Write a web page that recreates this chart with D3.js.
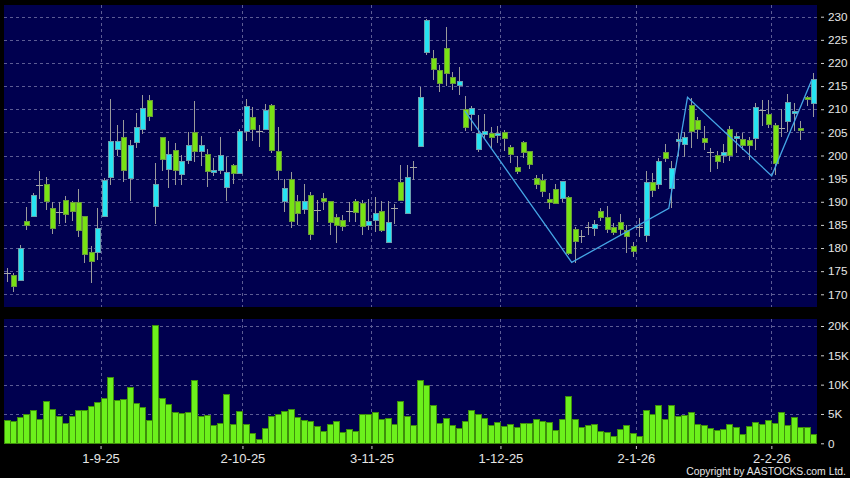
<!DOCTYPE html>
<html><head><meta charset="utf-8">
<script src="https://cdn.jsdelivr.net/npm/d3@7"></script>
<style>html,body{margin:0;padding:0;background:#000;} svg{display:block;}</style>
</head><body>
<svg id="chart" width="850" height="478"></svg>
<script>
// ---- data (trading days 11-Aug-2025 .. 10-Feb-2026, index 0..125) ----
const opens = [174.7,174.1,172.9,185.8,186.8,193.7,193.7,188.6,187.8,190.3,
189.9,189.9,186.8,179.0,179.1,186.8,195.3,201.3,203.9,195.0,
202.8,205.6,211.9,189.0,203.9,196.9,201.0,195.9,199.0,204.9,
200.9,200.2,196.3,196.7,193.0,197.9,196.1,205.1,208.2,205.4,
205.6,210.7,200.8,190.0,194.8,190.0,188.3,191.3,188.3,190.8,
190.0,186.5,186.0,188.0,190.0,189.6,184.8,185.9,187.8,181.2,
188.7,194.1,187.4,197.5,201.9,222.3,221.0,218.4,223.2,216.9,
215.1,209.9,208.8,201.2,204.5,204.8,204.3,205.0,201.7,197.4,
202.9,200.9,195.1,194.6,190.5,192.7,190.6,191.0,183.9,182.5,
184.5,184.3,187.9,186.6,184.5,185.5,183.8,180.4,184.5,182.8,
194.2,193.7,200.7,192.9,203.0,202.4,210.8,207.6,203.7,200.7,
200.0,200.1,205.6,203.7,203.4,203.2,203.6,209.8,208.8,206.5,
206.0,207.3,209.0,205.9,212.5,211.2];
const highs = [175.7,174.5,180.6,188.8,191.8,196.6,195.3,189.9,189.9,191.2,
190.1,192.8,186.8,180.4,188.6,195.1,212.3,206.6,207.7,203.3,
209.1,213.1,213.1,198.3,203.9,203.1,202.8,200.2,205.1,211.8,
204.3,201.5,199.4,204.0,199.6,198.2,205.8,212.3,210.4,206.6,
211.1,211.1,206.2,195.0,196.4,191.4,193.9,192.1,190.3,191.9,
190.0,187.3,187.1,190.0,190.7,190.3,190.7,191.0,190.1,190.1,
189.6,197.9,197.9,198.9,214.9,229.5,222.8,219.6,227.7,218.0,
219.2,212.8,210.7,208.8,208.9,206.1,206.4,205.5,202.3,199.8,
203.2,200.9,195.8,196.0,191.8,193.9,194.5,191.2,184.6,183.8,
185.7,186.1,188.6,189.0,185.4,187.4,185.0,181.4,186.5,196.6,
196.2,199.4,202.5,198.8,204.9,205.0,212.5,208.4,206.3,201.6,
200.9,202.5,206.4,204.9,204.8,203.9,211.3,212.0,212.0,207.0,
210.0,213.3,211.3,207.5,212.9,217.9];
const lows = [172.7,170.4,172.9,184.0,186.8,190.6,188.2,183.0,185.1,185.5,
185.8,182.4,176.8,172.5,177.5,186.8,193.6,199.9,194.2,190.1,
201.7,204.6,207.5,185.2,196.7,192.9,193.7,193.7,198.1,198.7,
197.8,193.1,195.6,196.0,190.1,193.8,196.1,203.2,203.2,201.9,
205.6,200.6,194.8,187.8,184.4,184.9,187.4,181.7,185.6,188.3,
182.8,181.1,183.7,185.6,185.6,182.8,183.8,183.5,183.5,181.2,
185.1,190.3,187.4,194.6,201.9,221.8,216.4,213.8,215.1,214.2,
213.1,205.2,205.2,200.7,203.6,201.6,202.8,200.9,198.3,196.0,
199.4,197.1,192.7,191.1,188.5,189.5,190.0,178.5,176.8,181.0,
182.8,182.7,185.9,183.2,182.8,182.8,178.9,178.1,182.3,181.2,
191.1,192.7,198.5,188.6,199.9,199.6,201.6,203.5,201.2,196.5,
197.1,198.3,198.9,200.5,201.2,199.0,201.2,206.4,205.9,195.8,
204.0,205.0,205.2,203.4,210.6,208.4];
const closes = [174.7,171.6,179.8,184.9,191.4,193.7,190.0,184.3,187.8,187.2,
187.9,183.7,178.6,177.0,184.3,194.5,203.0,203.0,196.7,202.2,
206.1,210.2,208.4,193.7,199.2,200.2,196.8,198.7,202.2,200.9,
202.2,196.6,196.8,200.1,196.3,196.1,205.1,210.6,205.6,205.4,
209.8,201.0,196.7,192.8,185.7,187.4,190.0,183.0,188.3,190.0,
185.5,184.8,184.7,188.0,187.7,184.7,185.8,187.4,183.7,185.5,
188.7,190.3,195.2,197.5,212.5,229.1,218.5,215.6,217.8,215.6,
216.0,206.1,210.2,204.8,205.2,203.9,204.8,203.6,200.3,196.5,
200.6,198.1,193.8,192.2,189.8,189.7,194.4,178.9,181.4,182.5,
184.5,185.1,186.7,184.1,183.4,183.9,182.5,179.2,184.5,194.2,
192.4,198.8,199.4,197.2,203.5,203.9,205.1,205.7,202.9,200.7,
198.8,200.6,199.9,204.2,202.2,202.1,210.4,209.8,206.6,198.2,
206.0,211.4,209.5,205.3,212.1,216.5];
const volumesK = [3.85,3.7,4.36,4.93,5.6,4.08,7.15,5.84,4.54,3.4,
4.54,5.67,5.67,6.3,7.04,7.66,11.24,7.32,7.5,9.47,
6.75,6.13,3.97,20.15,7.72,6.64,5.33,5.1,5.2,10.67,
4.6,4.82,2.95,3.46,8.28,3.29,5.5,3.23,1.7,0.73,
2.44,4.54,4.93,5.45,5.84,4.36,3.85,3.68,2.9,1.93,
3.23,3.8,1.87,2.27,2.04,4.99,4.99,5.33,4.14,4.3,
3.23,7.2,4.65,2.95,10.78,9.93,6.4,3.4,4.2,3.0,
2.55,3.68,5.56,4.99,4.25,3.12,3.51,2.83,3.23,2.66,
3.46,3.46,4.08,3.8,3.63,2.15,4.14,8.0,4.08,2.72,
3.06,3.29,1.93,1.76,1.13,2.27,3.06,1.65,1.08,5.6,
4.93,6.4,4.14,6.36,4.65,4.76,5.2,3.29,3.06,2.44,
2.1,2.27,3.17,2.66,1.53,2.83,3.57,3.29,3.91,3.4,
5.33,3.12,4.42,2.72,2.72,1.53];
const priceTicks = [170,175,180,185,190,195,200,205,210,215,220,225,230];
const volumeTicks = [0,5,10,15,20];
const dateTickLabels = ['1-9-25','2-10-25','3-11-25','1-12-25','2-1-26','2-2-26'];
const dateTickIndex = [15,37,57,77,98,119];
const zigzagIndex = [71, 87.55, 102.6, 105.5, 118.55, 124.76];
const zigzagValue = [209.6, 176.9, 188.6, 212.6, 195.6, 216.3];

// ---- drawing ----
const svg = d3.select('#chart');
const n = closes.length;
const PL = 4, PR = 817;
const priceTop = 5, priceBottom = 307;
const volTop = 319, volBottom = 444;
const NAVY = '#00004f';
const GRID = '#5c5c94';
const FONT = '"Liberation Sans", Arial, sans-serif';

const x = d3.scaleLinear().domain([-0.5, n - 0.5]).range([3.8, 816.5]);
const yP = d3.scaleLinear().domain([170, 230]).range([294.3, 16.7]);
const yV = d3.scaleLinear().domain([0, 20]).range([443.3, 326]);

svg.append('rect').attr('width', 850).attr('height', 478).attr('fill', '#000');
svg.append('rect').attr('x', PL).attr('y', priceTop).attr('width', PR - PL).attr('height', priceBottom - priceTop).attr('fill', NAVY);
svg.append('rect').attr('x', PL).attr('y', volTop).attr('width', PR - PL).attr('height', volBottom - volTop).attr('fill', NAVY);

const defs = svg.append('defs');
defs.append('clipPath').attr('id', 'cp').append('rect').attr('x', PL).attr('y', priceTop).attr('width', PR - PL).attr('height', priceBottom - priceTop);
defs.append('clipPath').attr('id', 'cv').append('rect').attr('x', PL).attr('y', volTop).attr('width', PR - PL).attr('height', volBottom - volTop);

const gridG = svg.append('g').attr('stroke', GRID).attr('stroke-dasharray', '3,3').attr('stroke-width', 1).attr('shape-rendering', 'crispEdges');
// horizontal price grid
gridG.selectAll('.hp').data(priceTicks).join('line')
  .attr('x1', PL).attr('x2', PR).attr('y1', d => Math.round(yP(d)) + 0.5).attr('y2', d => Math.round(yP(d)) + 0.5);
gridG.selectAll('.hv').data(volumeTicks.filter(v => v > 0)).join('line').attr('class', 'hv')
  .attr('x1', PL).attr('x2', PR).attr('y1', d => Math.round(yV(d)) + 0.5).attr('y2', d => Math.round(yV(d)) + 0.5);
// vertical grid (both panels)
dateTickIndex.forEach(di => {
  const gx = Math.round(x(di - 0.5)) + 0.5;
  gridG.append('line').attr('x1', gx).attr('x2', gx).attr('y1', priceTop).attr('y2', priceBottom);
  gridG.append('line').attr('x1', gx).attr('x2', gx).attr('y1', volTop).attr('y2', volBottom);
});

// candles
const idx = d3.range(n);
const cg = svg.append('g').attr('clip-path', 'url(#cp)').attr('shape-rendering', 'crispEdges');
cg.selectAll('.wick').data(idx).join('line')
  .attr('x1', i => Math.round(x(i)) + 0.5).attr('x2', i => Math.round(x(i)) + 0.5)
  .attr('y1', i => yP(highs[i])).attr('y2', i => yP(lows[i]))
  .attr('stroke', '#9a9a9a').attr('stroke-width', 1);
const doji = idx.filter(i => Math.abs(opens[i] - closes[i]) < 0.05);
const bodies = idx.filter(i => Math.abs(opens[i] - closes[i]) >= 0.05);
cg.selectAll('.doji').data(doji).join('line')
  .attr('x1', i => Math.round(x(i)) - 3).attr('x2', i => Math.round(x(i)) + 4)
  .attr('y1', i => Math.round(yP(opens[i])) + 0.5).attr('y2', i => Math.round(yP(opens[i])) + 0.5)
  .attr('stroke', '#a8a8a8').attr('stroke-width', 1.5);
cg.selectAll('.body').data(bodies).join('rect')
  .attr('x', i => Math.round(x(i)) - 2)
  .attr('width', 5)
  .attr('y', i => yP(Math.max(opens[i], closes[i])))
  .attr('height', i => Math.max(1.5, Math.abs(yP(opens[i]) - yP(closes[i]))))
  .attr('fill', i => closes[i] > opens[i] ? '#26e4f2' : '#78e214')
  .attr('stroke', i => closes[i] > opens[i] ? '#6c9fae' : '#6a9a3c')
  .attr('stroke-width', 1);

// zigzag
const zz = zigzagIndex.map((d, k) => [d, zigzagValue[k]]);
svg.append('path').attr('clip-path', 'url(#cp)')
  .attr('d', d3.line().x(d => x(d[0])).y(d => yP(d[1]))(zz))
  .attr('fill', 'none').attr('stroke', '#45a6e6').attr('stroke-width', 1.3);

// volume
svg.append('g').attr('clip-path', 'url(#cv)').attr('shape-rendering', 'crispEdges')
  .selectAll('rect').data(idx).join('rect')
  .attr('x', i => Math.round(x(i)) - 2.5)
  .attr('width', 5.5)
  .attr('y', i => yV(volumesK[i]))
  .attr('height', i => yV(0) - yV(volumesK[i]))
  .attr('fill', '#6cf01c').attr('stroke', '#3e8e0c').attr('stroke-width', 1);

// axes
function styleAxis(g, size) {
  g.select('.domain').remove();
  g.selectAll('line').attr('stroke', '#cfcfcf');
  g.selectAll('text').attr('fill', '#e6e6e6').style('font-family', FONT).style('font-size', size + 'px');
}
const pAxis = svg.append('g').attr('transform', 'translate(821,0)')
  .call(d3.axisRight(yP).tickValues(priceTicks).tickSize(3).tickPadding(4));
styleAxis(pAxis, 11.7);
const vAxis = svg.append('g').attr('transform', 'translate(821,0)')
  .call(d3.axisRight(yV).tickValues(volumeTicks).tickSize(3).tickPadding(4).tickFormat(v => v === 0 ? '0' : v + 'K'));
styleAxis(vAxis, 11.7);

const xAxis = svg.append('g').attr('transform', 'translate(0,446)')
  .call(d3.axisBottom(x).tickValues(dateTickIndex.map(d => d - 0.5)).tickSize(3).tickPadding(4.5)
    .tickFormat((d, k) => dateTickLabels[k]));
styleAxis(xAxis, 13);

svg.append('text').attr('x', 846).attr('y', 475).attr('text-anchor', 'end')
  .attr('fill', '#e6e6e6').style('font-family', FONT).style('font-size', '10.4px')
  .text('Copyright by AASTOCKS.com Ltd.');
</script>
</body></html>
